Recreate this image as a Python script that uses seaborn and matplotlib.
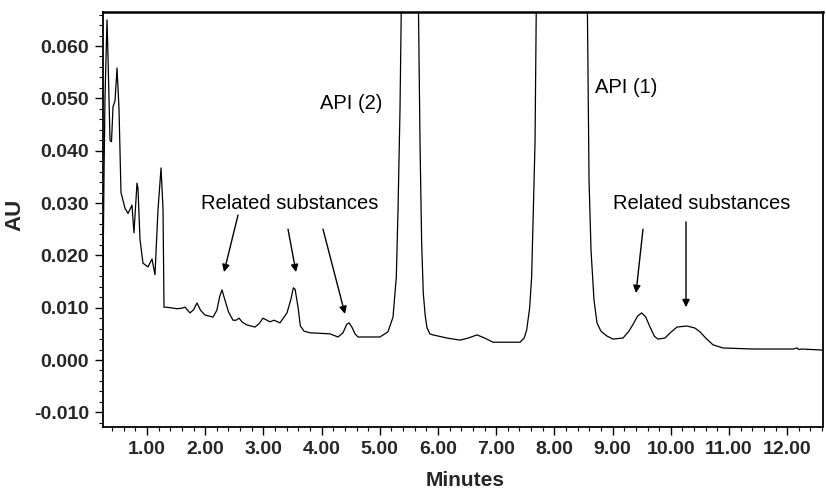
import matplotlib
matplotlib.use("Agg")
import matplotlib.pyplot as plt
import seaborn as sns
import pandas as pd
from matplotlib.ticker import MultipleLocator, FormatStrFormatter

# ---- data ----
minutes = [0.244, 0.262, 0.278, 0.313, 0.330, 0.364, 0.390, 0.416, 0.450, 0.485,
           0.519, 0.553, 0.622, 0.674, 0.742, 0.776, 0.828, 0.845, 0.880, 0.931,
           1.017, 1.086, 1.137, 1.189, 1.241, 1.275, 1.292, 1.309, 1.400, 1.515,
           1.600, 1.653, 1.739, 1.800, 1.859, 1.920, 1.997, 2.134, 2.200, 2.250,
           2.289, 2.330, 2.400, 2.478, 2.530, 2.581, 2.640, 2.718, 2.856, 2.930,
           2.993, 3.113, 3.182, 3.285, 3.405, 3.470, 3.515, 3.545, 3.595, 3.635,
           3.700, 3.801, 4.144, 4.282, 4.368, 4.430, 4.471, 4.520, 4.574, 4.625,
           5.003, 5.141, 5.227, 5.284, 5.313, 5.347, 5.378, 5.519, 5.656, 5.691,
           5.719, 5.747, 5.780, 5.810, 5.860, 5.914, 6.155, 6.378, 6.520, 6.670,
           6.800, 6.945, 7.409, 7.480, 7.523, 7.575, 7.609, 7.640, 7.667, 7.695,
           8.131, 8.560, 8.595, 8.629, 8.680, 8.732, 8.800, 8.900, 9.007, 9.179,
           9.280, 9.350, 9.430, 9.500, 9.570, 9.643, 9.720, 9.780, 9.900, 10.000,
           10.107, 10.278, 10.416, 10.500, 10.600, 10.725, 10.897, 11.412, 12.100, 12.170,
           12.200, 12.250, 12.615]
au = [0.0159, 0.0360, 0.0500, 0.0650, 0.0580, 0.0420, 0.0417, 0.0484, 0.0495, 0.0558,
      0.0480, 0.0320, 0.0290, 0.0280, 0.0296, 0.0243, 0.0338, 0.0328, 0.0230, 0.0185,
      0.0178, 0.0193, 0.0163, 0.0287, 0.0367, 0.0290, 0.0101, 0.0101, 0.0100, 0.0098,
      0.0099, 0.0101, 0.0090, 0.0096, 0.0109, 0.0095, 0.0086, 0.0082, 0.0095, 0.0122,
      0.0134, 0.0118, 0.0092, 0.0076, 0.0076, 0.0080, 0.0072, 0.0067, 0.0063, 0.0070,
      0.0080, 0.0073, 0.0076, 0.0071, 0.0090, 0.0115, 0.0138, 0.0135, 0.0101, 0.0065,
      0.0055, 0.0052, 0.0050, 0.0044, 0.0052, 0.0068, 0.0071, 0.0063, 0.0050, 0.0044,
      0.0044, 0.0054, 0.0082, 0.0159, 0.0287, 0.0478, 0.0750, 1.0000, 0.0750, 0.0415,
      0.0224, 0.0128, 0.0085, 0.0062, 0.0050, 0.0048, 0.0042, 0.0038, 0.0042, 0.0048,
      0.0042, 0.0034, 0.0034, 0.0042, 0.0057, 0.0100, 0.0159, 0.0300, 0.0415, 0.0750,
      1.0000, 0.0750, 0.0344, 0.0210, 0.0115, 0.0071, 0.0055, 0.0046, 0.0040, 0.0042,
      0.0055, 0.0068, 0.0084, 0.0090, 0.0082, 0.0063, 0.0045, 0.0040, 0.0042, 0.0053,
      0.0063, 0.0065, 0.0061, 0.0054, 0.0042, 0.0029, 0.0023, 0.0021, 0.0021, 0.0023,
      0.0020, 0.0021, 0.0019]

x_ticks = [1.0, 2.0, 3.0, 4.0, 5.0, 6.0, 7.0, 8.0, 9.0, 10.0, 11.0, 12.0]
y_ticks = [-0.010, 0.000, 0.010, 0.020, 0.030, 0.040, 0.050, 0.060]

# annotation texts / arrows (data coords)
labels = ["API (2)", "API (1)", "Related substances", "Related substances"]
label_x = [4.505, 9.23, 3.457, 10.536]
label_y = [0.0491, 0.0520, 0.0300, 0.0300]
arrow_start_x = [2.564, 3.423, 4.024, 9.522, 10.261]
arrow_start_y = [0.0277, 0.0250, 0.0250, 0.0250, 0.0264]
arrow_end_x = [2.323, 3.560, 4.402, 9.402, 10.261]
arrow_end_y = [0.0168, 0.0168, 0.0088, 0.0128, 0.0101]

df = pd.DataFrame({"Minutes": minutes, "AU": au})

sns.set_style("ticks")
plt.rcParams["font.family"] = ["Liberation Sans", "DejaVu Sans"]

fig = plt.figure(figsize=(8.26, 4.88), dpi=100)
ax = fig.add_axes([103 / 826, 61 / 488, 720 / 826, 415 / 488])

sns.lineplot(data=df, x="Minutes", y="AU", ax=ax, color="black",
             linewidth=0.9, sort=False, estimator=None)

ax.set_xlim(0.244, 12.615)
ax.set_ylim(-0.0128, 0.0665)

ax.set_xticks(x_ticks)
ax.set_yticks(y_ticks)
ax.xaxis.set_major_formatter(FormatStrFormatter("%.2f"))
ax.yaxis.set_major_formatter(FormatStrFormatter("%.3f"))
ax.xaxis.set_minor_locator(MultipleLocator(0.2))
ax.yaxis.set_minor_locator(MultipleLocator(0.002))

ax.tick_params(axis="both", which="major", direction="out", length=6, width=1.0,
               labelsize=14, pad=4, color="black")
ax.tick_params(axis="both", which="minor", direction="out", length=3, width=0.8,
               color="black")
for lab in ax.get_xticklabels() + ax.get_yticklabels():
    lab.set_fontweight("bold")

for side in ["left", "bottom", "right", "top"]:
    ax.spines[side].set_visible(True)
    ax.spines[side].set_color("black")
    ax.spines[side].set_linewidth(1.3)
ax.spines["top"].set_linewidth(1.8)

ax.set_xlabel("Minutes", fontsize=15, fontweight="bold")
ax.set_ylabel("AU", fontsize=16, fontweight="bold")
ax.xaxis.set_label_coords(0.503, -0.105)
ax.yaxis.set_label_coords(-0.108, 0.51)

for t, tx, ty in zip(labels, label_x, label_y):
    ax.text(tx, ty, t, fontsize=14.5, ha="center", va="center", color="black")

for sx, sy, ex, ey in zip(arrow_start_x, arrow_start_y, arrow_end_x, arrow_end_y):
    ax.annotate("", xy=(ex, ey), xytext=(sx, sy),
                arrowprops=dict(arrowstyle="-|>", color="black", lw=1.0,
                                mutation_scale=11, shrinkA=0, shrinkB=0))

ax.grid(False)
fig.savefig("out.png", dpi=100, facecolor="white")
